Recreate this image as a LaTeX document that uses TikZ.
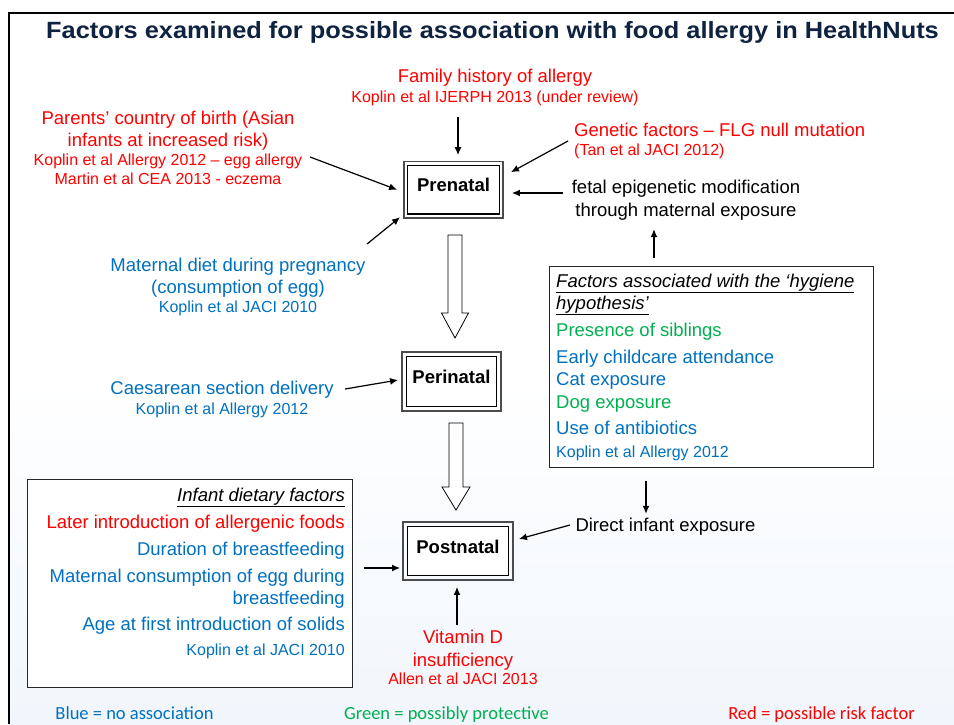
\documentclass[tikz,border=0pt]{standalone}
\usepackage{fontspec}
\usepackage{graphicx}
\setmainfont{Liberation Sans}
\newfontfamily\legendfont{Carlito}
\usetikzlibrary{arrows.meta,calc}
\definecolor{rf}{HTML}{FF0000}
\definecolor{bf}{HTML}{0070C0}
\definecolor{gf}{HTML}{00B050}
\definecolor{navy}{HTML}{0F2341}
\definecolor{bgblue}{HTML}{F1F6FC}
\begin{document}
\begin{tikzpicture}[x=1pt,y=-1pt,
  main/.style={font=\fontsize{18.5}{22}\selectfont, inner sep=0pt, text height=13pt, text depth=1pt},
  small/.style={font=\fontsize{16}{19}\selectfont, inner sep=0pt, text height=11.5pt, text depth=0.5pt},
  legend/.style={font=\legendfont\fontsize{18.5}{22}\selectfont, inner sep=0pt, text height=13pt, text depth=1pt},
  stage/.style={draw, line width=1.3pt, fill=white, font=\bfseries\fontsize{18.5}{22}\selectfont, text height=13pt, text depth=9pt, inner sep=0pt},
  stageouter/.style={draw=black!70, line width=1.8pt},
  listbox/.style={draw=black!85, line width=1pt, fill=white, inner sep=0pt},
  arr/.style={line width=1.2pt, -{Latex[length=8pt,width=7pt]}},
  hollow/.style={draw, line width=0.8pt, fill=white, line join=miter}
]
\useasboundingbox (0,0) rectangle (954,724);
\fill[white] (0,0) rectangle (954,724);
\shade[top color=white, bottom color=bgblue] (9,380) rectangle (954,724);
% frame
\draw[line width=2pt] (954,12.5) -- (8.5,12.5) -- (8.5,724);
% title
\node[font=\bfseries\fontsize{23.5}{28}\selectfont, text=navy, inner sep=0pt, text height=17pt, text depth=5pt] (title) at (492.5,32.3) {\scalebox{1.08}[1]{Factors examined for possible association with food allergy in HealthNuts}};

% stage boxes
\node[stage, minimum width=91.6pt, minimum height=48.7pt] (pre) at (453.5,189.7) {Prenatal};
\draw[stageouter] ($(pre.north west)+(-3.3,-3.3)$) rectangle ($(pre.south east)+(3.3,3.3)$);
\node[stage, minimum width=90.4pt, minimum height=50.4pt] (peri) at (451.5,381.5) {Perinatal};
\draw[stageouter] ($(peri.north west)+(-3.3,-3.3)$) rectangle ($(peri.south east)+(3.3,3.3)$);
\node[stage, minimum width=101.4pt, minimum height=49.4pt] (post) at (458,551) {Postnatal};
\draw[stageouter] ($(post.north west)+(-3.3,-3.3)$) rectangle ($(post.south east)+(3.3,3.3)$);

% hollow arrows
\coordinate (h1t) at (455,235); \coordinate (h1h) at (455,338);
\draw[hollow] ($(h1t)+(-7,0)$) -- ($(h1h)+(-7,-25)$) -- ($(h1h)+(-13.5,-25)$) -- (h1h) -- ($(h1h)+(13.5,-25)$) -- ($(h1h)+(7,-25)$) -- ($(h1t)+(7,0)$) -- cycle;
\coordinate (h2t) at (456,423); \coordinate (h2h) at (456,510);
\draw[hollow] ($(h2t)+(-7,0)$) -- ($(h2h)+(-7,-23)$) -- ($(h2h)+(-14,-23)$) -- (h2h) -- ($(h2h)+(14,-23)$) -- ($(h2h)+(7,-23)$) -- ($(h2t)+(7,0)$) -- cycle;

% family history
\node[main, text=rf] (fam) at (495,76) {Family history of allergy};
\node[small, text=rf] (famref) at (495,97) {Koplin et al IJERPH 2013 (under review)};
% parents
\node[main, text=rf] (par1) at (168,118) {Parents’ country of birth (Asian};
\node[main, text=rf] (par2) at (168,140) {infants at increased risk)};
\node[small, text=rf] (parref1) at (168,160) {Koplin et al Allergy 2012 – egg allergy};
\node[small, text=rf] (parref2) at (168,179) {Martin et al CEA 2013 - eczema};
% genetic
\node[main, text=rf, anchor=west] (gen) at (574,130) {Genetic factors – FLG null mutation};
\node[small, text=rf, anchor=west] (genref) at (574,150) {(Tan et al JACI 2012)};
% fetal
\node[main] (fet1) at (686,187) {fetal epigenetic modification};
\node[main] (fet2) at (686,210) {through maternal exposure};
% maternal diet
\node[main, text=bf] (mat1) at (238,265) {Maternal diet during pregnancy};
\node[main, text=bf] (mat2) at (238,287) {(consumption of egg)};
\node[small, text=bf] (matref) at (238,307) {Koplin et al JACI 2010};
% caesarean
\node[main, text=bf] (ces) at (222,388) {Caesarean section delivery};
\node[small, text=bf] (cesref) at (222,409) {Koplin et al Allergy 2012};

% hygiene box
\node[listbox, minimum width=324pt, minimum height=201pt] (hyg) at (711,366.5) {};
\node[main, anchor=west] (hyg1) at (556,281) {\underline{\textit{Factors associated with the ‘hygiene}}};
\node[main, anchor=west] (hyg2) at (556,303) {\underline{\textit{hypothesis’}}};
\node[main, anchor=west, text=gf] (hyg3) at (556,330) {Presence of siblings};
\node[main, anchor=west, text=bf] (hyg4) at (556,357) {Early childcare attendance};
\node[main, anchor=west, text=bf] (hyg5) at (556,379) {Cat exposure};
\node[main, anchor=west, text=gf] (hyg6) at (556,402) {Dog exposure};
\node[main, anchor=west, text=bf] (hyg7) at (556,428) {Use of antibiotics};
\node[small, anchor=west, text=bf] (hyg8) at (556,452) {Koplin et al Allergy 2012};

% direct infant exposure
\node[main] (direct) at (665.5,525) {Direct infant exposure};

% infant dietary box
\node[listbox, minimum width=325pt, minimum height=208pt] (diet) at (189.5,583) {};
\node[main, anchor=east] (d1) at (345,495) {\underline{\textit{Infant dietary factors}}};
\node[main, anchor=east, text=rf] (d2) at (345,522) {Later introduction of allergenic foods};
\node[main, anchor=east, text=bf] (d3) at (345,549) {Duration of breastfeeding};
\node[main, anchor=east, text=bf] (d4) at (345,576) {Maternal consumption of egg during};
\node[main, anchor=east, text=bf] (d5) at (345,598) {breastfeeding};
\node[main, anchor=east, text=bf] (d6) at (345,624) {Age at first introduction of solids};
\node[small, anchor=east, text=bf] (d7) at (345,650) {Koplin et al JACI 2010};

% vitamin D
\node[main, text=rf] (vit1) at (463,637) {Vitamin D};
\node[main, text=rf] (vit2) at (463,660) {insufficiency};
\node[small, text=rf] (vitref) at (463,679) {Allen et al JACI 2013};

% legend
\node[legend, text=bf] (lg1) at (134.5,713) {Blue = no association};
\node[legend, text=gf] (lg2) at (446.5,713) {Green = possibly protective};
\node[legend, text=rf] (lg3) at (821.5,713) {Red = possible risk factor};

% connectors
\coordinate (famT) at (458,117);
\draw[arr] (famT) -- ($(famT |- pre.north)+(0,-9.6)$);
\coordinate (parT) at (310,157);
\draw[arr] (parT) -- ($(pre.west)+(-10,0)$);
\coordinate (genT) at (568,141);
\draw[arr] (genT) -- ($(pre.north east)+(11,7.5)$);
\coordinate (fetT) at (563,193);
\draw[arr] (fetT) -- ($(pre.east)+(12,3.3)$);
\coordinate (hygup) at (654,258);
\draw[arr] (hygup) -- ($(hygup |- fet2.south)+(0,12)$);
\coordinate (matT) at (367,244);
\draw[arr] (matT) -- ($(pre.south west)+(-7,2.5)$);
\coordinate (cesT) at (345,389);
\draw[arr] (cesT) -- ($(peri.west)+(-7.6,-1.5)$);
\coordinate (hygdn) at (646,481);
\draw[arr] (hygdn) -- ($(hygdn |- direct.north)+(0,-4)$);
\coordinate (dirT) at (570,525);
\draw[arr] (dirT) -- ($(post.east)+(9.6,-12)$);
\draw[arr] ($(diet.east)+(11,-15)$) -- ($(post.west)+(-6.6,17)$);
\draw[arr] ($(vit1.north)+(-6,-5)$) -- ($(post.south)+(-1,10.6)$);
\end{tikzpicture}
\end{document}
